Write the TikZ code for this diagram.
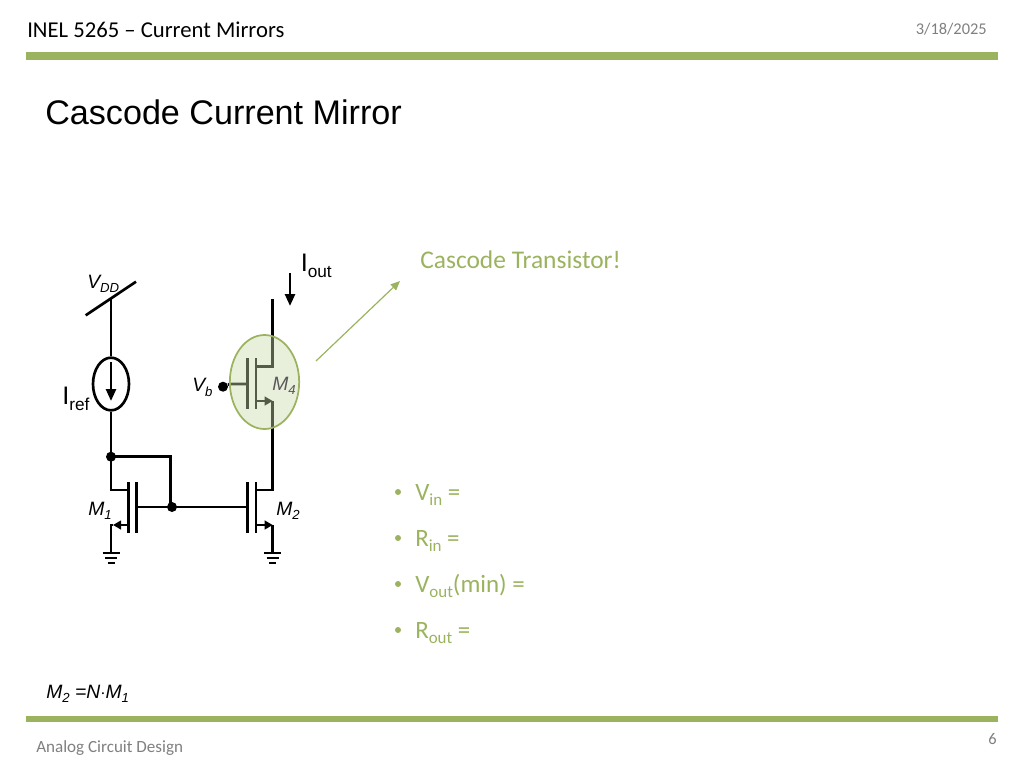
\documentclass[tikz,border=0pt]{standalone}
\usepackage{fontspec}
\setmainfont{Carlito}
\newfontfamily\arialfont{Liberation Sans}
\usetikzlibrary{arrows.meta,shapes.geometric}
\definecolor{accent}{HTML}{9BB35F}
\definecolor{halofill}{HTML}{C9D9A8}
\definecolor{footgray}{HTML}{7F7F7F}
\tikzset{
    wire/.style={line width=1.9pt, black},
    fet/.style={line width=2pt, black},
    dot/.style={circle, fill=black, inner sep=0pt, minimum size=7.5pt},
    circuitlabel/.style={font=\arialfont\fontsize{14.5}{16}\selectfont, inner sep=0pt, anchor=base west},
    biglabel/.style={font=\arialfont\fontsize{19}{22}\selectfont, inner sep=0pt, anchor=base west},
    bullet/.style={font=\fontsize{18.7}{22}\selectfont, text=accent, inner sep=0pt, anchor=base west},
    bar/.style={fill=accent, draw=none},
}
\newcommand{\subtext}[1]{\raisebox{-0.24em}{\scalebox{0.68}{#1}}}
\begin{document}
\begin{tikzpicture}[x=0.75pt, y=-0.75pt]
    \useasboundingbox (0,0) rectangle (1024,768);

    % header and footer
    \node[anchor=west, inner sep=0pt, font=\fontsize{17}{20}\selectfont] (head) at (27,29.5) {INEL 5265 – Current Mirrors};
    \node[anchor=east, inner sep=0pt, font=\fontsize{12.3}{14}\selectfont, text=footgray] (date) at (987,29) {3/18/2025};
    \fill[bar] (26,52) rectangle (998,60);
    \node[anchor=west, inner sep=0pt, font=\arialfont\fontsize{25.6}{30}\selectfont] (title) at (45,112) {Cascode Current Mirror};
    \fill[bar] (26,716) rectangle (998,722);
    \node[anchor=west, inner sep=0pt, font=\fontsize{12.8}{15}\selectfont, text=footgray] (foot) at (36,748) {Analog Circuit Design};
    \node[anchor=east, inner sep=0pt, font=\fontsize{12.3}{14}\selectfont, text=footgray] (page) at (997,739) {6};

    \coordinate (S1) at (111,299);
    \coordinate (D1) at (111,456.7);
    \coordinate (J1) at (170.7,456.7);
    \coordinate (G1) at (172,507);
    \coordinate (D2) at (272.7,490);
    \coordinate (G2) at (247.7,507);
    \coordinate (S2) at (272.7,525);
    \coordinate (D4) at (272.7,366.7);
    \coordinate (S4) at (272.7,401);
    \coordinate (T4) at (272.7,299);

    % supply and reference source
    \draw[fet] (85.7,315.3) -- (136,281.7);
    \node[draw, ellipse, line width=2pt, minimum width=27pt, minimum height=39.5pt, inner sep=0pt] (Iref) at (111,384) {};
    \draw[wire] (S1) -- (Iref.north);
    \draw[wire] (Iref.south) -- (D1);
    \draw[wire, -{Triangle[length=9pt,width=7.5pt]}] (111,362) -- (111,401);

    % M1
    \draw[wire] (D1) -- (111,490) -- (128.5,490);
    \draw[wire] (D1) -- (J1) -- (G1 -| J1);
    \draw[fet] (128.5,482) -- (128.5,533);
    \draw[fet] (136.7,482) -- (136.7,533);
    \draw[wire] (136.7,507) -- (G2);
    \draw[wire, -{Triangle[length=6pt,width=6.5pt]}] (128.5,525) -- (113,525);
    \draw[wire] (113,525) -- (111,525) -- (111,553);
    \node[dot] (n1) at (D1) {};
    \node[dot] (n2) at (G1) {};

    % M2
    \draw[fet] (247.7,482) -- (247.7,533);
    \draw[fet] (256,482) -- (256,533);
    \draw[wire] (256,490) -- (D2) -- (S4);
    \draw[wire] (272.7,525) -- (272.7,553);
    \draw[wire, -{Triangle[length=6pt,width=6.5pt]}] (256,525) -- (S2);

    % M4
    \draw[fet] (247.7,358) -- (247.7,409);
    \draw[fet] (256,358) -- (256,409);
    \draw[wire] (256,366.7) -- (D4) -- (T4);
    \draw[wire, -{Triangle[length=6pt,width=6.5pt]}] (256,401) -- (S4);
    \node[dot] (n3) at (223,386.7) {};
    \draw[wire] (n3) -- (230,384) -- (247.7,384);

    % grounds
    \foreach \x in {111,272.7} {
        \draw[wire] (\x-8.5,553) -- (\x+8.5,553);
        \draw[wire] (\x-6,558) -- (\x+6,558);
        \draw[wire] (\x-3.5,563) -- (\x+3.5,563);
    }

    % labels
    \node[circuitlabel] (vdd) at (87,288) {\textit{V\subtext{DD}}};
    \node[biglabel] (iref) at (62,404) {I\subtext{ref}};
    \node[circuitlabel] (vb) at (192,391.5) {\textit{V\subtext{b}}};
    \node[circuitlabel] (m1) at (88,515) {\textit{M\subtext{1}}};
    \node[circuitlabel] (m2) at (276,515) {\textit{M\subtext{2}}};
    \node[circuitlabel] (n) at (46,698) {\textit{M\subtext{2} =N$\cdot$M\subtext{1}}};
    \node[biglabel] (iout) at (300.5,271) {I\subtext{out}};
    \draw[wire, -{Triangle[length=9pt,width=7.5pt]}] (290,273) -- (290,306);

    % highlight over M4
    \node[draw=accent, fill=halofill, fill opacity=0.42, draw opacity=1, line width=1.3pt, ellipse, minimum width=52pt, minimum height=70.5pt, inner sep=0pt] (halo) at (264.5,382) {};
    \node[circuitlabel] (m4) at (272,390) {\textcolor{black!65}{\textit{M\subtext{4}}}};

    % callout
    \coordinate (tip) at (400,281);
    \coordinate (tail) at (316,361);
    \draw[accent, line width=0.9pt, -{Triangle[length=7pt,width=6pt]}] (tail) -- (tip);
    \node[anchor=west, inner sep=0pt, font=\fontsize{19.1}{23}\selectfont, text=accent] (casc) at (420,260) {Cascode Transistor!};

    % equations
    \foreach \y/\t/\n in {500/V\subtext{in} =/vin, 546/R\subtext{in} =/rin, 592/V\subtext{out}(min) =/vout, 638/R\subtext{out} =/rout} {
        \fill[accent] (398,\y-8) circle (3);
        \node[bullet] (\n) at (415,\y) {\t};
    }
\end{tikzpicture}
\end{document}
